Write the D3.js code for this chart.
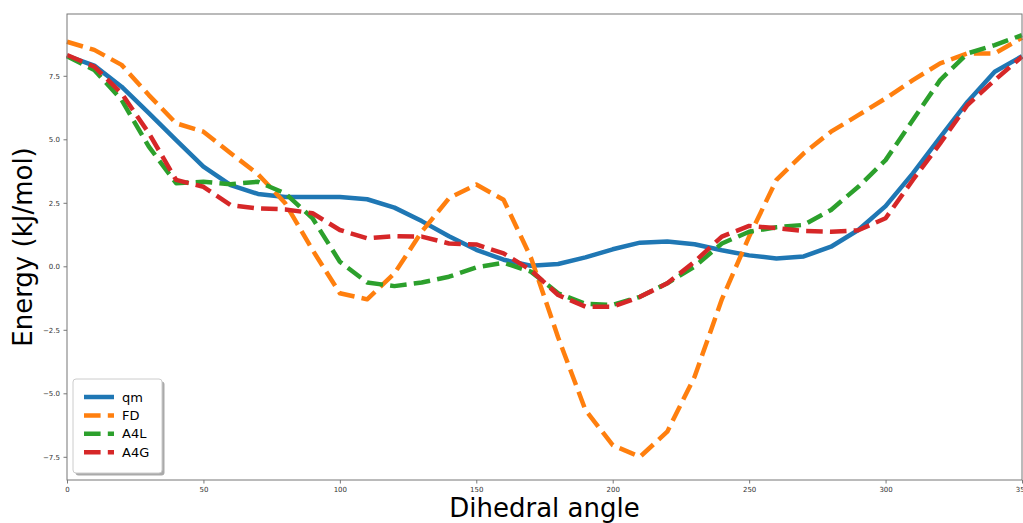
<!DOCTYPE html>
<html>
<head>
<meta charset="utf-8">
<script src="https://cdn.jsdelivr.net/npm/d3@7"></script>
<style>
  body { margin: 0; background: #fff; }
  text { font-family: "DejaVu Sans", sans-serif; }
</style>
</head>
<body>
<div id="chart"></div>
<script>

var width = 1023;
var height = 523;
var margin = {top: 14, right: 1, bottom: 43, left: 67};

// dihedral angles, every 10 degrees
var angles = [0, 10, 20, 30, 40, 50, 60, 70, 80, 90, 100, 110, 120, 130, 140, 150, 160, 170,
	180, 190, 200, 210, 220, 230, 240, 250, 260, 270, 280, 290, 300, 310, 320, 330, 340, 350];

var qm = [8.28, 7.9, 7.07, 6.03, 4.97, 3.92, 3.2, 2.85, 2.73, 2.73, 2.73, 2.64, 2.31, 1.78, 1.18, 0.65,
	0.26, 0.02, 0.09, 0.35, 0.67, 0.93, 0.98, 0.87, 0.63, 0.43, 0.31, 0.39, 0.77, 1.43,
	2.37, 3.66, 5.08, 6.47, 7.66, 8.27];

var fd = [8.84, 8.52, 7.93, 6.74, 5.63, 5.3, 4.45, 3.63, 2.48, 0.64, -1.06, -1.3, -0.28, 1.36, 2.68, 3.22,
	2.62, 0.35, -2.8, -5.66, -7.04, -7.5, -6.51, -4.35, -1.3, 1.17, 3.4, 4.45, 5.3, 5.95,
	6.61, 7.33, 7.99, 8.38, 8.38, 9.0];

var a4l = [8.27, 7.73, 6.55, 4.71, 3.27, 3.33, 3.23, 3.33, 2.87, 1.89, 0.18, -0.64, -0.78, -0.64, -0.41, -0.04,
	0.14, -0.21, -1.06, -1.48, -1.52, -1.2, -0.67, -0.01, 0.9, 1.36, 1.54, 1.63, 2.22, 3.13,
	4.18, 5.76, 7.33, 8.38, 8.71, 9.1];

var a4g = [8.32, 7.86, 6.81, 5.24, 3.4, 3.13, 2.41, 2.28, 2.24, 2.09, 1.43, 1.1, 1.19, 1.17, 0.9, 0.86,
	0.51, -0.15, -1.13, -1.59, -1.59, -1.2, -0.67, 0.18, 1.17, 1.59, 1.5, 1.39, 1.36, 1.42,
	1.89, 3.4, 4.84, 6.35, 7.33, 8.25];

var seriesNames = ["qm", "FD", "A4L", "A4G"];
var seriesValues = [qm, fd, a4l, a4g];
var colors = ["#1f77b4", "#ff7f0e", "#2ca02c", "#d62728"];
var dashes = [null, "16.6,7.2", "16.6,7.2", "16.6,7.2"];

var xTicks = [0, 50, 100, 150, 200, 250, 300, 350];
var yTicks = [-7.5, -5.0, -2.5, 0.0, 2.5, 5.0, 7.5];

var svg = d3.select("#chart")
	.append("svg")
	.attr("width", width)
	.attr("height", height)
	;

var x = d3.scaleLinear()
	.domain([0, 350])
	.range([margin.left, width - margin.right])
	;

var y = d3.scaleLinear()
	.domain([-8.413, 9.933])
	.range([height - margin.bottom, margin.top])
	;

var line = d3.line()
	.x(function(d) { return x(d.a); })
	.y(function(d) { return y(d.v); })
	;

// lines
seriesValues.forEach(function(vals, i) {
	var pts = angles.map(function(a, j) { return {a: a, v: vals[j]}; });
	svg.append("path")
		.datum(pts)
		.attr("fill", "none")
		.attr("stroke", colors[i])
		.attr("stroke-width", 4.5)
		.attr("stroke-dasharray", dashes[i])
		.attr("stroke-linejoin", "round")
		.attr("d", line)
		;
});

// axes
var xAxis = svg.append("g")
	.attr("transform", "translate(0," + (height - margin.bottom) + ")")
	.call(d3.axisBottom(x).tickValues(xTicks).tickSize(3.5).tickPadding(3.5).tickFormat(d3.format("d")))
	;

var yAxis = svg.append("g")
	.attr("transform", "translate(" + margin.left + ",0)")
	.call(d3.axisLeft(y).tickValues(yTicks).tickSize(3.5).tickPadding(3.5).tickFormat(d3.format(".1f")))
	;

[xAxis, yAxis].forEach(function(g) {
	g.select(".domain").remove();
	g.selectAll("line").attr("stroke", "#555").attr("stroke-width", 0.8);
	g.selectAll("text")
		.attr("fill", "#333")
		.style("font-size", "7px")
		.style("font-family", "DejaVu Sans, sans-serif");
});

// frame
svg.append("rect")
	.attr("x", margin.left)
	.attr("y", margin.top)
	.attr("width", width - margin.right - margin.left)
	.attr("height", height - margin.bottom - margin.top)
	.attr("fill", "none")
	.attr("stroke", "#777")
	.attr("stroke-width", 1)
	;

// axis labels
svg.append("text")
	.attr("x", (margin.left + width - margin.right) / 2)
	.attr("y", 517)
	.attr("text-anchor", "middle")
	.style("font-size", "26px")
	.attr("fill", "#000")
	.text("Dihedral angle")
	;

svg.append("text")
	.attr("transform", "translate(32," + ((margin.top + height - margin.bottom) / 2) + ") rotate(-90)")
	.attr("text-anchor", "middle")
	.style("font-size", "26px")
	.attr("fill", "#000")
	.text("Energy (kJ/mol)")
	;

// legend
var lx = 73, ly = 379, lw = 89, lh = 94;

svg.append("rect")
	.attr("x", lx + 2.5)
	.attr("y", ly + 2.5)
	.attr("width", lw)
	.attr("height", lh)
	.attr("rx", 3)
	.attr("fill", "#aaa")
	;

svg.append("rect")
	.attr("x", lx)
	.attr("y", ly)
	.attr("width", lw)
	.attr("height", lh)
	.attr("rx", 3)
	.attr("fill", "#fff")
	.attr("stroke", "#ccc")
	.attr("stroke-width", 1)
	;

var leg = svg.selectAll(".leg")
	.data(seriesNames)
	.enter()
	.append("g")
	.attr("class", "leg")
	.attr("transform", function(d, i) { return "translate(" + (lx + 11) + "," + (ly + 18 + i * 18.4) + ")"; })
	;

leg.append("line")
	.attr("x1", 0)
	.attr("x2", 30)
	.attr("stroke", function(d, i) { return colors[i]; })
	.attr("stroke-width", 4.5)
	.attr("stroke-dasharray", function(d, i) { return dashes[i]; })
	;

leg.append("text")
	.attr("x", 38)
	.attr("y", 4.5)
	.style("font-size", "13px")
	.attr("fill", "#000")
	.text(function(d) { return d; })
	;

</script>
</body>
</html>
